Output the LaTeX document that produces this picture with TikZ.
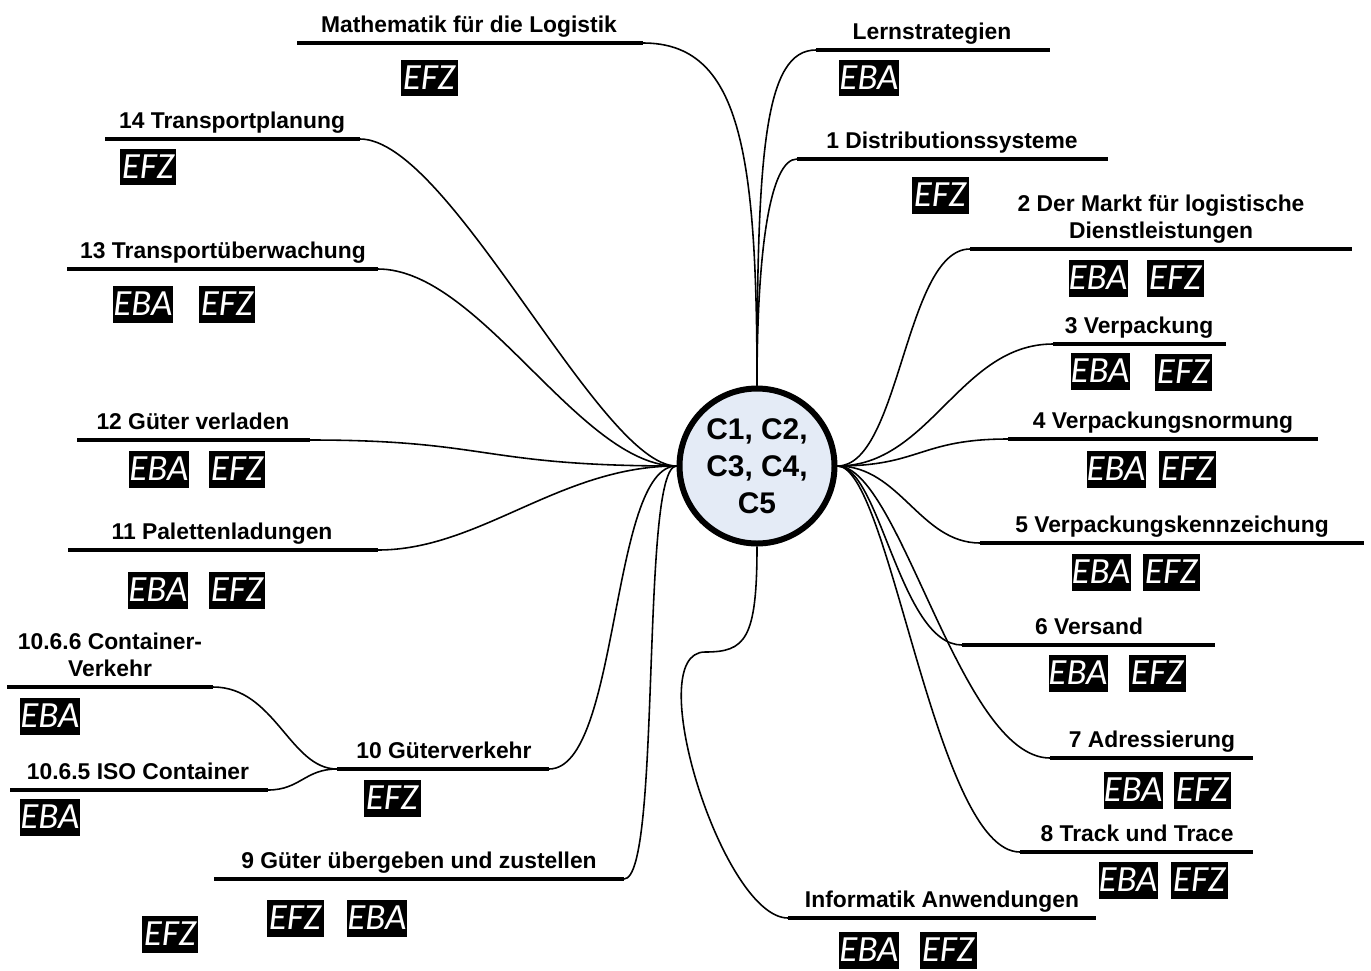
\documentclass[tikz,border=0pt]{standalone}
\usepackage{fontspec}
\setmainfont{Liberation Sans}
\newfontfamily\badgefont{Carlito}
\definecolor{hubfill}{HTML}{E4EBF6}

\tikzset{
  hub/.style={circle, draw=black, line width=3.4pt, fill=hubfill, minimum size=3.1cm,
    inner sep=0pt, align=center, font=\fontsize{17}{21}\selectfont\bfseries},
  bar/.style={line width=2.6pt},
  topic/.style={anchor=base, inner sep=0pt, align=center,
    font=\fontsize{13}{15.3}\selectfont\bfseries},
  badge/.style={fill=black, text=white, inner sep=0pt, minimum width=1.14cm,
    minimum height=0.74cm, font=\badgefont\itshape\fontsize{21}{21}\selectfont},
  branch/.style={line width=0.9pt},
}

\begin{document}
\begin{tikzpicture}[x=0.02cm, y=-0.02cm]
\useasboundingbox (0,0) rectangle (1371,970);

% Center
\node[hub] (hub) at (757,466) {C1, C2,\\C3, C4,\\C5};

% Top branches
\draw[bar] (297,43) coordinate (mathL) -- (643,43) coordinate (mathR);
\node[topic] (mathT) at (469,32) {Mathematik für die Logistik};
\node[badge] (mathEFZ) at (429,78) {EFZ};
\draw[branch] (mathR) .. controls (740,43) and (757,150) .. (hub.north);

\draw[bar] (816,50) coordinate (lernL) -- (1050,50) coordinate (lernR);
\node[topic] (lernT) at (932,39) {Lernstrategien};
\node[badge] (lernEBA) at (869,78) {EBA};
\draw[branch] (lernL) .. controls (765,50) and (757,150) .. (hub.north);

\draw[bar] (797,159) coordinate (distL) -- (1108,159) coordinate (distR);
\node[topic] (distT) at (952,148) {1 Distributionssysteme};
\node[badge] (distEFZ) at (940,195) {EFZ};
\draw[branch] (distL) .. controls (770,159) and (757,250) .. (hub.north);

% Left branches
\draw[bar] (105,139) coordinate (tplanL) -- (360,139) coordinate (tplanR);
\node[topic] (tplanT) at (232,128) {14 Transportplanung};
\node[badge] (tplanEFZ) at (148,167) {EFZ};
\draw[branch] (tplanR) .. controls (450,139) and (600,466) .. (hub.west);

\draw[bar] (67,269) coordinate (tuebL) -- (378,269) coordinate (tuebR);
\node[topic] (tuebT) at (223,258) {13 Transportüberwachung};
\node[badge] (tuebEBA) at (143,304) {EBA};
\node[badge] (tuebEFZ) at (227,304) {EFZ};
\draw[branch] (tuebR) .. controls (480,269) and (580,466) .. (hub.west);

\draw[bar] (77,440) coordinate (verlL) -- (310,440) coordinate (verlR);
\node[topic] (verlT) at (193,429) {12 Güter verladen};
\node[badge] (verlEBA) at (159,469) {EBA};
\node[badge] (verlEFZ) at (237,469) {EFZ};
\draw[branch] (verlR) .. controls (490,440) and (480,466) .. (hub.west);

\draw[bar] (68,550) coordinate (palL) -- (378,550) coordinate (palR);
\node[topic] (palT) at (222,539) {11 Palettenladungen};
\node[badge] (palEBA) at (158,590) {EBA};
\node[badge] (palEFZ) at (237,590) {EFZ};
\draw[branch] (palR) .. controls (480,550) and (560,466) .. (hub.west);

\draw[bar] (337,769) coordinate (gvL) -- (549,769) coordinate (gvR);
\node[topic] (gvT) at (444,758) {10 Güterverkehr};
\node[badge] (gvEFZ) at (392,798) {EFZ};
\draw[branch] (gvR) .. controls (620,769) and (610,466) .. (hub.west);

\draw[bar] (7,687) coordinate (cvL) -- (213,687) coordinate (cvR);
\node[topic] (cvT) at (110,676) {10.6.6 Container-\\Verkehr};
\node[badge] (cvEBA) at (50,716) {EBA};
\draw[branch] (cvR) .. controls (275,687) and (290,769) .. (gvL);

\draw[bar] (10,790) coordinate (isoL) -- (268,790) coordinate (isoR);
\node[topic] (isoT) at (138,779) {10.6.5 ISO Container};
\node[badge] (isoEBA) at (50,817) {EBA};
\draw[branch] (isoR) .. controls (300,790) and (305,769) .. (gvL);

\draw[bar] (214,879) coordinate (zustL) -- (624,879) coordinate (zustR);
\node[topic] (zustT) at (419,868) {9 Güter übergeben und zustellen};
\node[badge] (zustEFZa) at (170,934) {EFZ};
\node[badge] (zustEFZb) at (295,918) {EFZ};
\node[badge] (zustEBA) at (377,918) {EBA};
\draw[branch] (zustR) .. controls (662,879) and (640,466) .. (hub.west);

% Right branches
\draw[bar] (970,249) coordinate (marktL) -- (1352,249) coordinate (marktR);
\node[topic] (marktT) at (1161,238) {2 Der Markt für logistische\\Dienstleistungen};
\node[badge] (marktEBA) at (1098,278) {EBA};
\node[badge] (marktEFZ) at (1175,278) {EFZ};
\draw[branch] (hub.east) .. controls (900,466) and (905,249) .. (marktL);

\draw[bar] (1053,344) coordinate (vpL) -- (1226,344) coordinate (vpR);
\node[topic] (vpT) at (1139,333) {3 Verpackung};
\node[badge] (vpEBA) at (1100,371) {EBA};
\node[badge] (vpEFZ) at (1183,372) {EFZ};
\draw[branch] (hub.east) .. controls (930,466) and (960,344) .. (vpL);

\draw[bar] (1008,439) coordinate (normL) -- (1318,439) coordinate (normR);
\node[topic] (normT) at (1163,428) {4 Verpackungsnormung};
\node[badge] (normEBA) at (1116,469) {EBA};
\node[badge] (normEFZ) at (1187,469) {EFZ};
\draw[branch] (hub.east) .. controls (920,466) and (920,439) .. (normL);

\draw[bar] (980,543) coordinate (kennL) -- (1364,543) coordinate (kennR);
\node[topic] (kennT) at (1172,532) {5 Verpackungskennzeichung};
\node[badge] (kennEBA) at (1101,572) {EBA};
\node[badge] (kennEFZ) at (1171,572) {EFZ};
\draw[branch] (hub.east) .. controls (900,466) and (920,543) .. (kennL);

\draw[bar] (962,645) coordinate (versL) -- (1215,645) coordinate (versR);
\node[topic] (versT) at (1089,634) {6 Versand};
\node[badge] (versEBA) at (1078,673) {EBA};
\node[badge] (versEFZ) at (1157,673) {EFZ};
\draw[branch] (hub.east) .. controls (880,466) and (900,645) .. (versL);

\draw[bar] (1050,758) coordinate (adrL) -- (1253,758) coordinate (adrR);
\node[topic] (adrT) at (1152,747) {7 Adressierung};
\node[badge] (adrEBA) at (1133,790) {EBA};
\node[badge] (adrEFZ) at (1202,790) {EFZ};
\draw[branch] (hub.east) .. controls (900,466) and (960,758) .. (adrL);

\draw[bar] (1020,852) coordinate (trackL) -- (1253,852) coordinate (trackR);
\node[topic] (trackT) at (1137,841) {8 Track und Trace};
\node[badge] (trackEBA) at (1128,880) {EBA};
\node[badge] (trackEFZ) at (1199,880) {EFZ};
\draw[branch] (hub.east) .. controls (890,466) and (935,852) .. (trackL);

% Bottom branch
\draw[bar] (788,918) coordinate (infoL) -- (1096,918) coordinate (infoR);
\node[topic] (infoT) at (942,907) {Informatik Anwendungen};
\node[badge] (infoEBA) at (869,950) {EBA};
\node[badge] (infoEFZ) at (948,950) {EFZ};
\coordinate (jog) at (705,652);
\draw[branch] (hub.south) .. controls (757,640) and (745,652) .. (jog)
  to[out=180,in=180,looseness=0.6] (infoL);

\end{tikzpicture}
\end{document}
